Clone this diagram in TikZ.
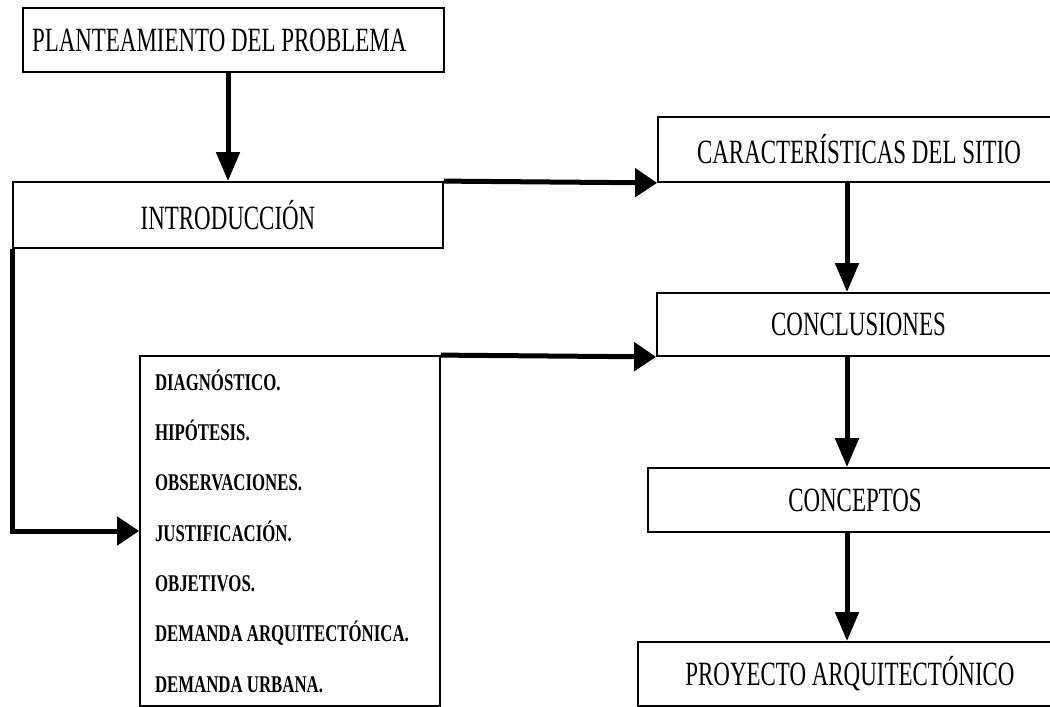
\documentclass[tikz,border=0pt]{standalone}
\usepackage{fontspec}
\setmainfont[FakeStretch=0.675]{Liberation Serif}
\newfontfamily\listfont[FakeStretch=0.70,BoldFont={Liberation Serif Bold}]{Liberation Serif}
\usetikzlibrary{arrows.meta}
\newcommand{\plainspace}{\spaceskip 0pt\relax \xspaceskip 0pt\relax}
\tikzset{
  box/.style={draw, line width=1.8pt, inner sep=0pt, font=\fontsize{34}{36}\selectfont},
  vflow/.style={line width=5pt, -{Triangle[length=29pt,width=23pt]}},
  hflow/.style={line width=5pt, -{Triangle[length=22pt,width=28pt]}}
}
\begin{document}
\begin{tikzpicture}[x=1pt,y=-1pt]
\useasboundingbox (0,0) rectangle (1050,707);
\clip (0,0) rectangle (1050,707);
% left column
\node[box, minimum width=421pt, minimum height=64pt, text width=403pt, align=left] (plan) at (233.5,40) {\plainspace PLANTEAMIENTO DEL PROBLEMA};
\node[box, minimum width=430pt, minimum height=66pt] (intro) at (228,215) {INTRODUCCIÓN};
\node[box, minimum width=300pt, minimum height=350pt, text width=270pt, align=left,
  font=\listfont\bfseries\fontsize{24}{50.3}\selectfont] (list) at (290,531)
  {\plainspace DIAGNÓSTICO.\\HIPÓTESIS.\\OBSERVACIONES.\\JUSTIFICACIÓN.\\OBJETIVOS.\\DEMANDA ARQUITECTÓNICA.\\DEMANDA URBANA.};
% right column
\node[box, minimum width=402pt, minimum height=65pt] (sitio) at (859,149.5) {CARACTERÍSTICAS DEL SITIO};
\node[box, minimum width=403pt, minimum height=63pt] (concl) at (858.5,324.5) {CONCLUSIONES};
\node[box, minimum width=414pt, minimum height=64pt] (concep) at (855,500) {CONCEPTOS};
\node[box, minimum width=424pt, minimum height=64pt] (proy) at (850,674) {PROYECTO ARQUITECTÓNICO};
\coordinate (axis) at (847,0);
% arrows
\draw[vflow] (plan.south -| intro.north) -- (intro.north);
\draw[hflow] (intro.north east) -- (sitio.south west);
\draw[hflow] (intro.south west) |- (list.west);
\draw[hflow] (list.north east) -- (concl.south west);
\draw[vflow] (sitio.south -| axis) -- (concl.north -| axis);
\draw[vflow] (concl.south -| axis) -- (concep.north -| axis);
\draw[vflow] (concep.south -| axis) -- (proy.north -| axis);
\end{tikzpicture}
\end{document}
